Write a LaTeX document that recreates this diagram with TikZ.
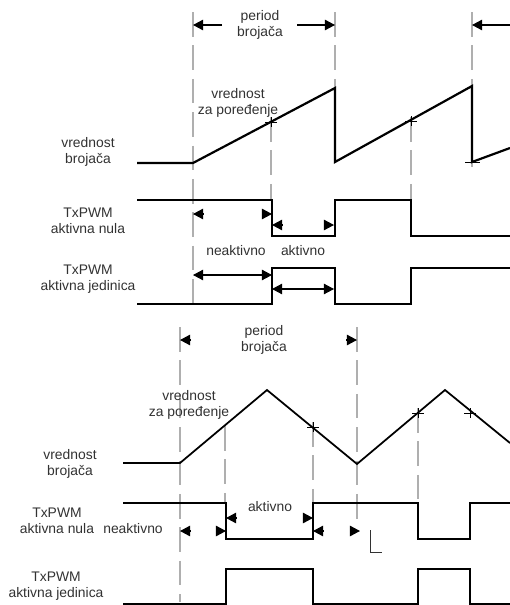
\documentclass[tikz,border=0pt]{standalone}
\usepackage{fontspec}
\setmainfont{Liberation Sans}
\usetikzlibrary{arrows.meta}
\definecolor{tkGray}{RGB}{175,175,175}
\definecolor{tkText}{RGB}{50,50,50}

\begin{document}
\begin{tikzpicture}[x=0.02cm, y=-0.02cm, font=\fontsize{7.9}{9.4}\selectfont,
  sig/.style={line width=1.25pt, line join=miter},
  guide/.style={tkGray, line width=0.6pt, dash pattern=on 14pt off 5pt},
  tip/.style={-{Triangle[length=5.8pt,width=6pt]}, line width=0.7pt},
  dim/.style={{Triangle[length=5.8pt,width=6pt]}-{Triangle[length=5.8pt,width=6pt]}, line width=0.6pt},
  lbl/.style={text=tkText, align=center, inner sep=0pt}]
\useasboundingbox (0,0) rectangle (510,605);
% ===== gornji deo: testerasti brojac =====
% vodilice
\foreach \gx/\ga/\gb in {193/12/305, 335/12/160, 472/12/167, 271/117/200, 411/117/200}
  \draw[guide] (\gx,\ga) -- (\gx,\gb);
% period brojaca
\draw[tip] (222,25) -- (193,25);
\draw[tip] (297,25) -- (335,25);
\draw[tip] (510,25) -- (472,25);
\node[lbl] (perA) at (260,25) {period\\brojača};
% brojac
\draw[sig] (137,163) -- (193,163) -- (335,88) -- (335,162) -- (472,86) -- (472,162) -- (510,148);
\foreach \cx/\cy in {271/122, 411/121}
  \draw[line width=0.5pt] (\cx-6,\cy) -- (\cx+6,\cy) (\cx,\cy-5) -- (\cx,\cy+5);
\draw[line width=0.5pt] (465,162) -- (480,162);
\node[lbl] (cmpA) at (238,103) {vrednost\\za poređenje};
\node[lbl] (cntA) at (88,152) {vrednost\\brojača};
% TxPWM aktivna nula / jedinica
\draw[sig] (137,200) -- (272,200) -- (272,236) -- (335,236) -- (335,200) -- (411,200) -- (411,236) -- (510,236);
\draw[sig] (137,304) -- (272,304) -- (272,268) -- (335,268) -- (335,304) -- (411,304) -- (411,268) -- (510,268);
\foreach \xa/\xb/\yy in {203/193/214, 262/272/214, 282/272/225, 324/334/225}
  \draw[tip] (\xa,\yy) -- (\xb,\yy);
\draw[dim] (193,275) -- (272,275);
\draw[dim] (272,289) -- (334,289);
\node[lbl] (nulaA) at (88,221) {TxPWM\\aktivna nula};
\node[lbl] (jedA) at (88,279) {TxPWM\\aktivna jedinica};
\node[lbl] (neakA) at (236,251) {neaktivno};
\node[lbl] (aktA) at (303,251) {aktivno};
% ===== donji deo: trougaoni brojac =====
\foreach \gx/\ga/\gb in {180/327/602, 357/327/527, 225/426/503, 313/422/503, 418/408/503}
  \draw[guide] (\gx,\ga) -- (\gx,\gb);
\draw[tip] (191,340) -- (180,340);
\draw[tip] (346,340) -- (357,340);
\node[lbl] (perB) at (264,340) {period\\brojača};
% brojac
\draw[sig, line width=1pt] (123,463) -- (180,463) -- (267,390) -- (357,464) -- (445,390) -- (510,443);
\foreach \cx/\cy in {313/427, 418/413, 470/413}
  \draw[line width=0.5pt] (\cx-6,\cy) -- (\cx+6,\cy) (\cx,\cy-5) -- (\cx,\cy+5);
\node[lbl] (cmpB) at (189,405) {vrednost\\za poređenje};
\node[lbl] (cntB) at (70,464) {vrednost\\brojača};
% TxPWM aktivna nula / jedinica
\draw[sig, line width=0.9pt] (123,503) -- (226,503) -- (226,539) -- (313,539) -- (313,503) -- (418,503) -- (418,539) -- (470,539) -- (470,503) -- (510,503);
\draw[sig] (123,604) -- (226,604) -- (226,569) -- (313,569) -- (313,604) -- (418,604) -- (418,569) -- (470,569) -- (470,604) -- (510,604);
\foreach \xa/\xb/\yy in {190/180/531, 216/226/531, 236/226/518, 303/313/518, 323/313/531, 350/360/531}
  \draw[tip] (\xa,\yy) -- (\xb,\yy);
\draw[tkText, line width=0.5pt] (370,530) -- (370,552) -- (382,552);
\node[lbl] (nulaB) at (57,521) {TxPWM\\aktivna nula};
\node[lbl] (neakB) at (133,529) {neaktivno};
\node[lbl] (aktB) at (270,507) {aktivno};
\node[lbl] (jedB) at (56,586) {TxPWM\\aktivna jedinica};
\end{tikzpicture}
\end{document}
